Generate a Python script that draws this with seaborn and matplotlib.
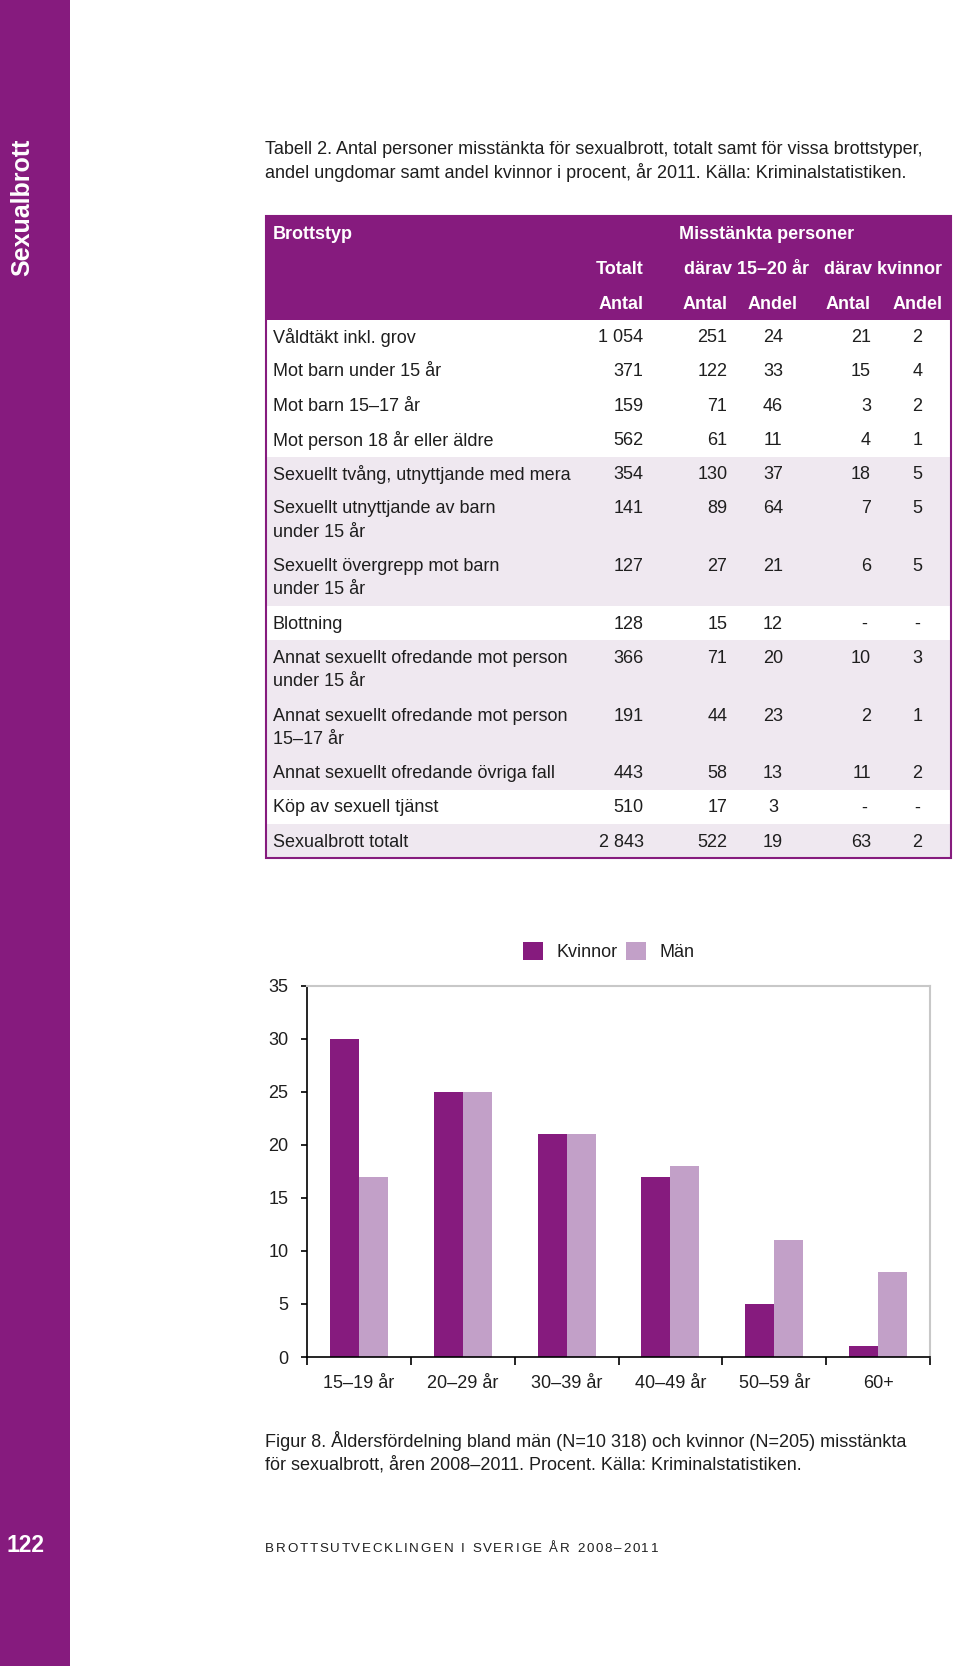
import numpy as np
import pandas as pd
import matplotlib
matplotlib.use("Agg")
import matplotlib.pyplot as plt
import seaborn as sns
from matplotlib.patches import Rectangle
from matplotlib.font_manager import FontProperties

# Tabell 2 - misstänkta personer 2011
brottstyp = ["Våldtäkt inkl. grov", "Mot barn under 15 år", "Mot barn 15–17 år",
             "Mot person 18 år eller äldre", "Sexuellt tvång, utnyttjande med mera",
             "Sexuellt utnyttjande av barn\nunder 15 år",
             "Sexuellt övergrepp mot barn\nunder 15 år",
             "Blottning", "Annat sexuellt ofredande mot person\nunder 15 år",
             "Annat sexuellt ofredande mot person\n15–17 år",
             "Annat sexuellt ofredande övriga fall",
             "Köp av sexuell tjänst", "Sexualbrott totalt"]
huvudgrupp = [0, 0, 0, 0, 1, 1, 1, 2, 3, 3, 3, 4, 5]
totalt_antal = [1054, 371, 159, 562, 354, 141, 127, 128, 366, 191, 443, 510, 2843]
unga_antal = [251, 122, 71, 61, 130, 89, 27, 15, 71, 44, 58, 17, 522]
unga_andel = [24, 33, 46, 11, 37, 64, 21, 12, 20, 23, 13, 3, 19]
kvinnor_antal = [21, 15, 3, 4, 18, 7, 6, None, 10, 2, 11, None, 63]
kvinnor_andel = [2, 4, 2, 1, 5, 5, 5, None, 3, 1, 2, None, 2]

# Figur 8 - åldersfördelning (procent)
aldersgrupper = ["15–19 år", "20–29 år", "30–39 år", "40–49 år", "50–59 år", "60+"]
andel_kvinnor = [30, 25, 21, 17, 5, 1]
andel_man = [17, 25, 21, 18, 11, 8]

LILA = "#861b7e"
LJUSLILA = "#c2a0c8"
TONAD = "#efe8f0"
TEXT = "#1e1e1e"

sns.set_style("white")
plt.rcParams["font.family"] = ["Liberation Sans", "DejaVu Sans"]
plt.rcParams["text.color"] = TEXT


def fmt(v):
    if v is None:
        return "-"
    return f"{v:,}".replace(",", " ")


fig = plt.figure(figsize=(9.6, 16.66), dpi=100)

# sidan i pixelkoordinater
page = fig.add_axes([0, 0, 1, 1])
page.set_xlim(0, 960)
page.set_ylim(1666, 0)
page.axis("off")

page.add_patch(Rectangle((0, 0), 70, 1666, color=LILA, lw=0))
page.text(22, 207, "Sexualbrott", rotation=90, color="white", fontsize=18,
          fontweight="bold", ha="center", va="center")
page.text(26, 1545, "122", color="white", fontsize=16.5, fontweight="bold",
          ha="center", va="center")

page.text(265, 149, "Tabell 2. Antal personer misstänkta för sexualbrott, totalt samt för vissa brottstyper,",
          fontsize=13, va="center")
page.text(265, 172, "andel ungdomar samt andel kvinnor i procent, år 2011. Källa: Kriminalstatistiken.",
          fontsize=13, va="center")

# tabellen
x0, x1 = 265.5, 950.5
head_top, head_bot = 215.6, 319.7
col_x = [643.6, 727.5, 773, 871, 917.5]
col_ha = ["right", "right", "center", "right", "center"]

page.add_patch(Rectangle((x0, head_top), x1 - x0, head_bot - head_top, color=LILA, lw=0))
hkw = dict(color="white", fontsize=13, fontweight="bold", va="center")
page.text(273, 234, "Brottstyp", ha="left", **hkw)
page.text(767, 234, "Misstänkta personer", ha="center", **hkw)
page.text(643.6, 269, "Totalt", ha="right", **hkw)
page.text(746.6, 269, "därav 15–20 år", ha="center", **hkw)
page.text(883, 269, "därav kvinnor", ha="center", **hkw)
for cx, ha, lab in zip(col_x, col_ha, ["Antal", "Antal", "Andel", "Antal", "Andel"]):
    page.text(cx, 304, lab, ha=ha, **hkw)

y = head_bot
for i, namn in enumerate(brottstyp):
    rader = namn.split("\n")
    h = 34.2 if len(rader) == 1 else 57.7
    if huvudgrupp[i] % 2 == 1:
        page.add_patch(Rectangle((x0, y), x1 - x0, h, color=TONAD, lw=0))
    for k, r in enumerate(rader):
        page.text(273, y + 18 + k * 23.4, r, fontsize=13, va="center")
    vals = [totalt_antal[i], unga_antal[i], unga_andel[i], kvinnor_antal[i], kvinnor_andel[i]]
    for cx, ha, v in zip(col_x, col_ha, vals):
        if v is None:
            page.text(cx - 4 if ha == "right" else cx, y + 18, "-", fontsize=13, ha=ha, va="center")
        else:
            page.text(cx, y + 18, fmt(v), fontsize=13, ha=ha, va="center")
    y += h

page.add_patch(Rectangle((x0, head_top), x1 - x0, y - head_top, fill=False,
                         edgecolor=LILA, lw=1.5))

# figurtext
page.text(265, 1441, "Figur 8. Åldersfördelning bland män (N=10 318) och kvinnor (N=205) misstänkta",
          fontsize=13, va="center")
page.text(265, 1465, "för sexualbrott, åren 2008–2011. Procent. Källa: Kriminalstatistiken.",
          fontsize=13, va="center")

# sidfot med spärrad text, bokstav för bokstav
sidfot = "BROTTSUTVECKLINGEN I SVERIGE ÅR 2008–2011"
prop = FontProperties(family=["Liberation Sans", "DejaVu Sans"], size=9.6)
renderer = fig.canvas.get_renderer()
bredder = []
for ch in sidfot:
    if ch == " ":
        bredder.append(4.0)
    else:
        bredder.append(renderer.get_text_width_height_descent(ch, prop, ismath=False)[0])
spar = (393 - sum(bredder)) / (len(sidfot) - 1)
xp = 265
for ch, b in zip(sidfot, bredder):
    if ch != " ":
        page.text(xp, 1549, ch, fontproperties=prop, va="center", ha="left")
    xp += b + spar

# stapeldiagrammet
ax = fig.add_axes([307 / 960, 1 - 1357 / 1666, 623 / 960, (1357 - 985.5) / 1666])
df = pd.DataFrame({
    "Åldersgrupp": aldersgrupper * 2,
    "Andel": andel_kvinnor + andel_man,
    "Kön": ["Kvinnor"] * len(aldersgrupper) + ["Män"] * len(aldersgrupper),
})
sns.barplot(data=df, x="Åldersgrupp", y="Andel", hue="Kön", palette=[LILA, LJUSLILA],
            width=0.56, gap=0, saturation=1, errorbar=None, linewidth=0, ax=ax)

ax.set_xlim(-0.5, len(aldersgrupper) - 0.5)
ax.set_ylim(0, 35)
ax.set_yticks(range(0, 36, 5))
ax.set_xticks(np.arange(len(aldersgrupper) + 1) - 0.5, minor=True)
ax.set_xlabel("")
ax.set_ylabel("")
ax.tick_params(axis="x", which="major", length=0, pad=13, labelsize=13, labelcolor=TEXT)
ax.tick_params(axis="x", which="minor", bottom=True, length=6, width=1.2,
               direction="out", color="black")
ax.tick_params(axis="y", length=4.5, width=1.2, direction="out", pad=9, labelsize=13,
               labelcolor=TEXT, left=True, color="black")
for s in ["top", "right"]:
    ax.spines[s].set_color("#c8c8c8")
    ax.spines[s].set_linewidth(1.5)
for s in ["left", "bottom"]:
    ax.spines[s].set_color("black")
    ax.spines[s].set_linewidth(1.2)

handles, labels = ax.get_legend_handles_labels()
ax.legend(handles, labels, loc="center", bbox_to_anchor=(609 / 960, 1 - 951.6 / 1666),
          bbox_transform=fig.transFigure, ncol=2, frameon=False, fontsize=13,
          handlelength=1.1, handleheight=1.1, handletextpad=0.75, columnspacing=0.45)

fig.savefig("out.png", dpi=100)
